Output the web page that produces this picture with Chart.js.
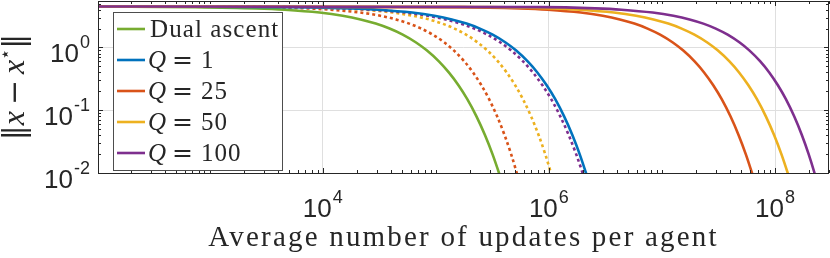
<!DOCTYPE html>
<html><head><meta charset="utf-8">
<script src="https://cdn.jsdelivr.net/npm/chart.js@4/dist/chart.umd.min.js"></script>
<style>html,body{margin:0;padding:0;background:#fff;}canvas{display:block;}</style>
</head><body>
<canvas id="c" width="830" height="258"></canvas>
<script>
// error levels (y) at which each curve's x position was read
const levels = [4.5, 4.4, 4.2, 4.0, 3.6, 3.2, 2.8, 2.4, 2.0, 1.6, 1.2, 0.9, 0.6, 0.4, 0.25, 0.15, 0.08, 0.04, 0.02, 0.01, 0.007];
// average number of updates per agent at which each curve reaches those levels
const kDual = [100, 744, 2570, 4630, 9380, 15000, 21600, 29400, 39000, 51000, 66900, 83100, 106500, 130300, 158600, 189800, 228800, 272600, 317200, 362200, 385700];
const kQ1 = [100, 5300, 17600, 31200, 61800, 97200, 138400, 187000, 245500, 318400, 414000, 511000, 649700, 790700, 955900, 1138000, 1364000, 1616000, 1871000, 2128000, 2262000];
const kQ25 = [100, 170800, 556800, 977700, 1916000, 2994000, 4240000, 5702000, 7457000, 9632000, 12470000, 15350000, 19440000, 23580000, 28420000, 33750000, 40340000, 47660000, 55080000, 62520000, 66370000];
const kQ50 = [100, 322500, 1071000, 1896000, 3755000, 5909000, 8416000, 11370000, 14930000, 19360000, 25180000, 31080000, 39520000, 48080000, 58120000, 69180000, 82910000, 98260000, 113800000, 129400000, 137500000];
const kQ100 = [100, 842300, 2573000, 4383000, 8278000, 12620000, 17540000, 23220000, 29910000, 38110000, 48660000, 59200000, 74030000, 88870000, 106000000, 124700000, 147600000, 172900000, 198200000, 223400000, 236300000];
const kQ25dotted = [100, 2350, 6940, 11600, 21500, 32300, 44400, 58200, 74400, 94000, 119100, 144000, 178800, 213300, 253100, 296000, 348500, 406000, 463400, 520200, 549500];
const kQ50dotted = [100, 4460, 13300, 22400, 41700, 62900, 86800, 114100, 146200, 185300, 235200, 284900, 354400, 423600, 503500, 590000, 695600, 812100, 928000, 1043000, 1102000];
const kQ100dotted = [100, 4350, 14800, 26600, 53400, 84900, 121800, 165600, 218800, 285200, 373000, 462500, 591100, 722300, 876800, 1048000, 1261000, 1499000, 1742000, 1986000, 2113000];

const xTickValues = [1e4, 1e6, 1e8];
const xTickLabels = ['10^4', '10^6', '10^8'];
const yTickValues = [0.01, 0.1, 1];
const yTickLabels = ['10^-2', '10^-1', '10^0'];
const xTitle = 'Average number of updates per agent';
const seriesLabels = ['Dual ascent', 'Q = 1', 'Q = 25', 'Q = 50', 'Q = 100'];

const C = { green: '#77AC30', blue: '#0072BD', red: '#D95319', yellow: '#EDB120', purple: '#7E2F8E' };
const SANS = "'Liberation Sans', Arial, Helvetica, sans-serif";
const SERIF = "'Liberation Serif', 'Times New Roman', serif";
const DSERIF = "'DejaVu Serif', serif";
const INK = '#262626';

function pts(ks) { return ks.map((k, i) => ({ x: k, y: levels[i] })); }
function ds(label, ks, color, dotted, inLegend) {
  return {
    label, data: pts(ks), borderColor: color, backgroundColor: color,
    borderWidth: 2.6, borderDash: dotted ? [3, 3] : [], borderCapStyle: 'butt',
    pointRadius: 0, cubicInterpolationMode: 'monotone', fill: false, inLegend
  };
}

const datasets = [
  ds(seriesLabels[4], kQ100, C.purple, false, true),
  ds(seriesLabels[3], kQ50, C.yellow, false, true),
  ds(seriesLabels[2], kQ25, C.red, false, true),
  ds(seriesLabels[1], kQ1, C.blue, false, true),
  ds(seriesLabels[0], kDual, C.green, false, true),
  ds(seriesLabels[4] + ' (dotted)', kQ100dotted, C.purple, true, false),
  ds(seriesLabels[3] + ' (dotted)', kQ50dotted, C.yellow, true, false),
  ds(seriesLabels[2] + ' (dotted)', kQ25dotted, C.red, true, false)
];

function drawPow(ctx, label, x, baseY, align) {
  const [b, e] = label.split('^');
  ctx.font = '26px ' + SANS;
  const wb = ctx.measureText(b).width;
  ctx.font = '18px ' + SANS;
  const we = ctx.measureText(e).width;
  const w = wb + we + 1;
  let x0 = align === 'center' ? x - w / 2 : x - w;
  ctx.textAlign = 'left'; ctx.textBaseline = 'alphabetic'; ctx.fillStyle = INK;
  ctx.font = '26px ' + SANS; ctx.fillText(b, x0, baseY);
  ctx.font = '18px ' + SANS; ctx.fillText(e, x0 + wb + 1, baseY - 14);
}

const spacing = {
  id: 'spacing',
  beforeDraw(chart) { chart.ctx.letterSpacing = '2.2px'; },
  afterDatasetsDraw(chart) { chart.ctx.letterSpacing = '0px'; }
};

const decor = {
  id: 'decor',
  afterDraw(chart) {
    const ctx = chart.ctx, a = chart.chartArea, xs = chart.scales.x, ys = chart.scales.y;
    ctx.save();
    ctx.letterSpacing = '0px';
    // axes box
    ctx.strokeStyle = INK; ctx.lineWidth = 1;
    ctx.strokeRect(Math.round(a.left) + 0.5, Math.round(a.top) + 0.5, Math.round(a.right - a.left) - 1, Math.round(a.bottom - a.top));
    // minor/major ticks (inward, both sides)
    ctx.beginPath();
    for (let e = 2; e <= 8; e++) for (let m = 1; m <= 9; m++) {
      const v = m * Math.pow(10, e);
      if (v < xs.min || v > xs.max) continue;
      const px = Math.round(xs.getPixelForValue(v)) + 0.5;
      const len = xTickValues.includes(v) ? 5 : 3;
      ctx.moveTo(px, a.bottom); ctx.lineTo(px, a.bottom - len);
      ctx.moveTo(px, a.top); ctx.lineTo(px, a.top + len);
    }
    for (let e = -2; e <= 0; e++) for (let m = 1; m <= 9; m++) {
      const v = m * Math.pow(10, e);
      if (v < ys.min || v > ys.max) continue;
      const py = Math.round(ys.getPixelForValue(v)) + 0.5;
      const len = yTickValues.includes(v) ? 5 : 3;
      ctx.moveTo(a.left, py); ctx.lineTo(a.left + len, py);
      ctx.moveTo(a.right, py); ctx.lineTo(a.right - len, py);
    }
    ctx.stroke();
    // tick labels
    xTickValues.forEach((v, i) => drawPow(ctx, xTickLabels[i], xs.getPixelForValue(v), 217, 'center'));
    yTickValues.forEach((v, i) => drawPow(ctx, yTickLabels[i], 90, ys.getPixelForValue(v) + 15, 'right'));
    // y-axis title  ||x - x*||
    ctx.save();
    ctx.translate(24, 87); ctx.rotate(-Math.PI / 2);
    const parts = [
      ['\u2016', '30px ' + DSERIF, 0], ['x', 'italic 32px ' + SERIF, 0], ['\u2009\u2212\u2009', '30px ' + DSERIF, 0],
      ['x', 'italic 32px ' + SERIF, 0], ['\u22C6', '18px ' + DSERIF, -13], ['\u2016', '30px ' + DSERIF, 0]
    ];
    let tw = 0;
    parts.forEach(p => { ctx.font = p[1]; p.push(ctx.measureText(p[0]).width); tw += p[3]; });
    let cx = -tw / 2;
    ctx.fillStyle = INK; ctx.textAlign = 'left'; ctx.textBaseline = 'alphabetic';
    parts.forEach(p => { ctx.font = p[1]; ctx.fillText(p[0], cx, p[2]); cx += p[3]; });
    ctx.restore();
    // legend
    const lx = 113.5, ly = 12.5, lw = 169, lh = 158;
    ctx.fillStyle = '#fff'; ctx.fillRect(lx, ly, lw, lh);
    ctx.strokeStyle = '#4d4d4d'; ctx.lineWidth = 1; ctx.strokeRect(lx, ly, lw, lh);
    const items = chart.data.datasets.filter(d => d.inLegend);
    const order = seriesLabels.map(l => items.find(d => d.label === l));
    order.forEach((d, i) => {
      const y = 29 + i * 31;
      ctx.strokeStyle = d.borderColor; ctx.lineWidth = 2.6; ctx.setLineDash([]);
      ctx.beginPath(); ctx.moveTo(117, y); ctx.lineTo(145, y); ctx.stroke();
      ctx.fillStyle = INK; ctx.textAlign = 'left'; ctx.textBaseline = 'alphabetic';
      if (d.label.startsWith('Q = ')) {
        ctx.letterSpacing = '0px';
        ctx.font = 'italic 25px ' + SERIF; ctx.fillText('Q', 148, y + 8);
        ctx.font = '25px ' + DSERIF; ctx.fillText('=', 172, y + 8);
        ctx.font = '25px ' + SERIF; ctx.letterSpacing = '1px'; ctx.fillText(d.label.slice(4), 201, y + 8);
      } else {
        ctx.font = '25px ' + SERIF; ctx.letterSpacing = '1.1px'; ctx.fillText(d.label, 150, y + 8);
      }
    });
    ctx.restore();
  }
};

new Chart(document.getElementById('c'), {
  type: 'line',
  data: { datasets },
  plugins: [spacing, decor],
  options: {
    responsive: false, animation: false, devicePixelRatio: 1,
    layout: { padding: { top: 1, right: 1, left: 0, bottom: 0 } },
    plugins: { legend: { display: false }, tooltip: { enabled: false } },
    scales: {
      x: {
        type: 'logarithmic', min: 103, max: 3e8,
        afterBuildTicks: s => { s.ticks = xTickValues.map(v => ({ value: v })); },
        afterFit: s => { s.height = 85; },
        ticks: { display: false },
        grid: { color: '#dfdfdf', lineWidth: 1, drawTicks: false },
        border: { display: false },
        title: { display: true, text: xTitle, color: INK, font: { family: SERIF, size: 29, lineHeight: 1 }, padding: { top: 0, bottom: 5 } }
      },
      y: {
        type: 'logarithmic', min: 0.01, max: 5.5,
        afterBuildTicks: s => { s.ticks = yTickValues.map(v => ({ value: v })); },
        afterFit: s => { s.width = 98; },
        ticks: { display: false },
        grid: { color: '#dfdfdf', lineWidth: 1, drawTicks: false },
        border: { display: false }
      }
    }
  }
});
</script>
</body></html>
